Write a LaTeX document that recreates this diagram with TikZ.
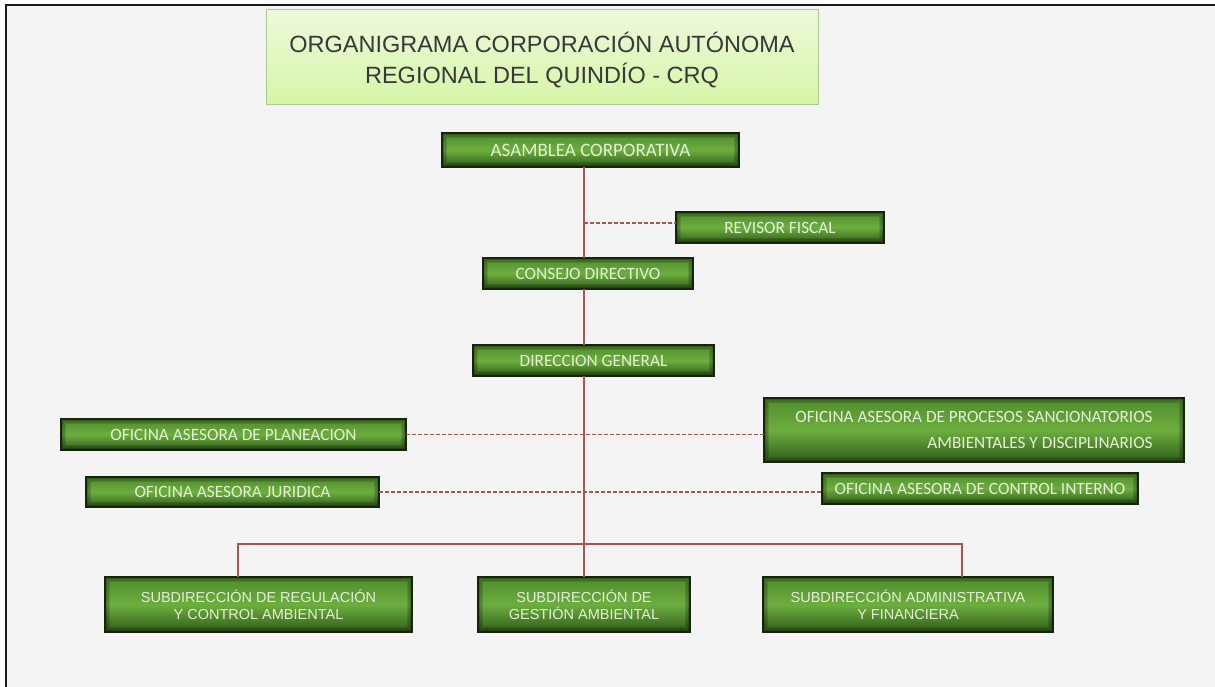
\documentclass[tikz,border=0pt]{standalone}
\usepackage{fontspec}
\setmainfont{Liberation Sans}
\newfontfamily\carl{Carlito}
\definecolor{bg}{HTML}{F4F4F4}
\definecolor{frame}{HTML}{1A1A1A}
\definecolor{ttop}{HTML}{EEF9DC}
\definecolor{tbot}{HTML}{D6F5A6}
\definecolor{tedge}{HTML}{A9C98F}
\definecolor{ttext}{HTML}{383838}
\definecolor{gtop}{HTML}{4E8C2C}
\definecolor{gmid}{HTML}{6DAE3F}
\definecolor{gbot}{HTML}{2F5C18}
\definecolor{gedge}{HTML}{16240E}
\definecolor{gtext}{HTML}{E6EFD8}
\definecolor{conncol}{HTML}{A5584E}
\tikzset{
  gbox/.style={draw=gedge, line width=1.3pt, top color=gtop, bottom color=gbot,
    middle color=gmid, inner sep=0pt, outer sep=0pt, text=gtext,
    path picture={
      \foreach \i/\o in {1.5/0.35,3/0.22,4.5/0.12}{
        \draw[black,opacity=\o,line width=1.6pt]
          ([shift={(\i pt,-\i pt)}]path picture bounding box.north west) rectangle
          ([shift={(-\i pt,\i pt)}]path picture bounding box.south east);}
    }},
  topbox/.style={gbox, font=\carl\fontsize{17.3}{21}\selectfont},
  subbox/.style={gbox, font=\fontsize{14.5}{17}\selectfont, align=center},
  conn/.style={draw=conncol, line width=1.2pt},
  dashconn/.style={draw=conncol, line width=1.1pt, dash pattern=on 4pt off 2pt},
}
\begin{document}
\begin{tikzpicture}[x=1pt,y=-1pt]
\useasboundingbox (0,0) rectangle (1215,687);
\fill[white] (0,0) rectangle (1215,687);
\fill[bg] (6,5) rectangle (1215,687);
\draw[frame, line width=2.5pt] (6,687) -- (6,5) -- (1215,5);

% title
\node[draw=tedge, line width=1pt, top color=ttop, bottom color=tbot,
  minimum width=552pt, minimum height=95pt, inner sep=0pt] (title) at (542,57.5) {};
\node[text=ttext, align=center, font=\fontsize{23.5}{31}\selectfont] (titletext) at (542,60.5)
  {ORGANIGRAMA CORPORACIÓN AUTÓNOMA\\REGIONAL DEL QUINDÍO - CRQ};

% boxes
\node[topbox, minimum width=297pt, minimum height=34pt, font=\carl\fontsize{19}{23}\selectfont] (asamblea) at (590.5,150) {ASAMBLEA CORPORATIVA};
\node[topbox, minimum width=208pt, minimum height=31pt] (revisor) at (780,227.5) {REVISOR FISCAL};
\node[topbox, minimum width=210pt, minimum height=31pt] (consejo) at (588,273.5) {CONSEJO DIRECTIVO};
\node[topbox, minimum width=241pt, minimum height=31pt] (direccion) at (593.5,360.5) {DIRECCION GENERAL};
\node[topbox, minimum width=345pt, minimum height=31pt] (planeacion) at (233.5,434.5) {OFICINA ASESORA DE PLANEACION};
\node[topbox, minimum width=293pt, minimum height=30pt] (juridica) at (232.5,492) {OFICINA ASESORA JURIDICA};
\node[topbox, minimum width=420pt, minimum height=64pt, align=right,
  font=\carl\fontsize{17.2}{26}\selectfont] (procesos) at (974,430)
  {OFICINA ASESORA DE PROCESOS SANCIONATORIOS\\AMBIENTALES Y DISCIPLINARIOS};
\node[topbox, minimum width=316pt, minimum height=31pt] (control) at (980,488.5) {OFICINA ASESORA DE CONTROL INTERNO};
\node[subbox, minimum width=307pt, minimum height=55pt] (sub1) at (258.5,604.5) {SUBDIRECCIÓN DE REGULACIÓN\\Y CONTROL AMBIENTAL};
\node[subbox, minimum width=212pt, minimum height=55pt] (sub2) at (584,604.5) {SUBDIRECCIÓN DE\\GESTIÓN AMBIENTAL};
\node[subbox, minimum width=290pt, minimum height=55pt] (sub3) at (908,604.5) {SUBDIRECCIÓN ADMINISTRATIVA\\Y FINANCIERA};

% connectors
\coordinate (spine) at (584,0);
\coordinate (busL) at (238,544);
\coordinate (busR) at (962,544);
\coordinate (revjoin) at (584,223);
\coordinate (revend) at (676,223);
\draw[dashconn] (revjoin) -- (revend);
\draw[dashconn] (planeacion.east) -- (planeacion.east -| procesos.west);
\draw[dashconn] (juridica.east) -- (juridica.east -| control.west);
\draw[conn] (asamblea.south -| spine) -- (consejo.north -| spine);
\draw[conn] (consejo.south -| spine) -- (direccion.north -| spine);
\draw[conn] (direccion.south -| spine) -- (sub2.north);
\draw[conn] (busL |- sub1.north) -- (busL) -- (busR) -- (busR |- sub3.north);
\end{tikzpicture}
\end{document}
